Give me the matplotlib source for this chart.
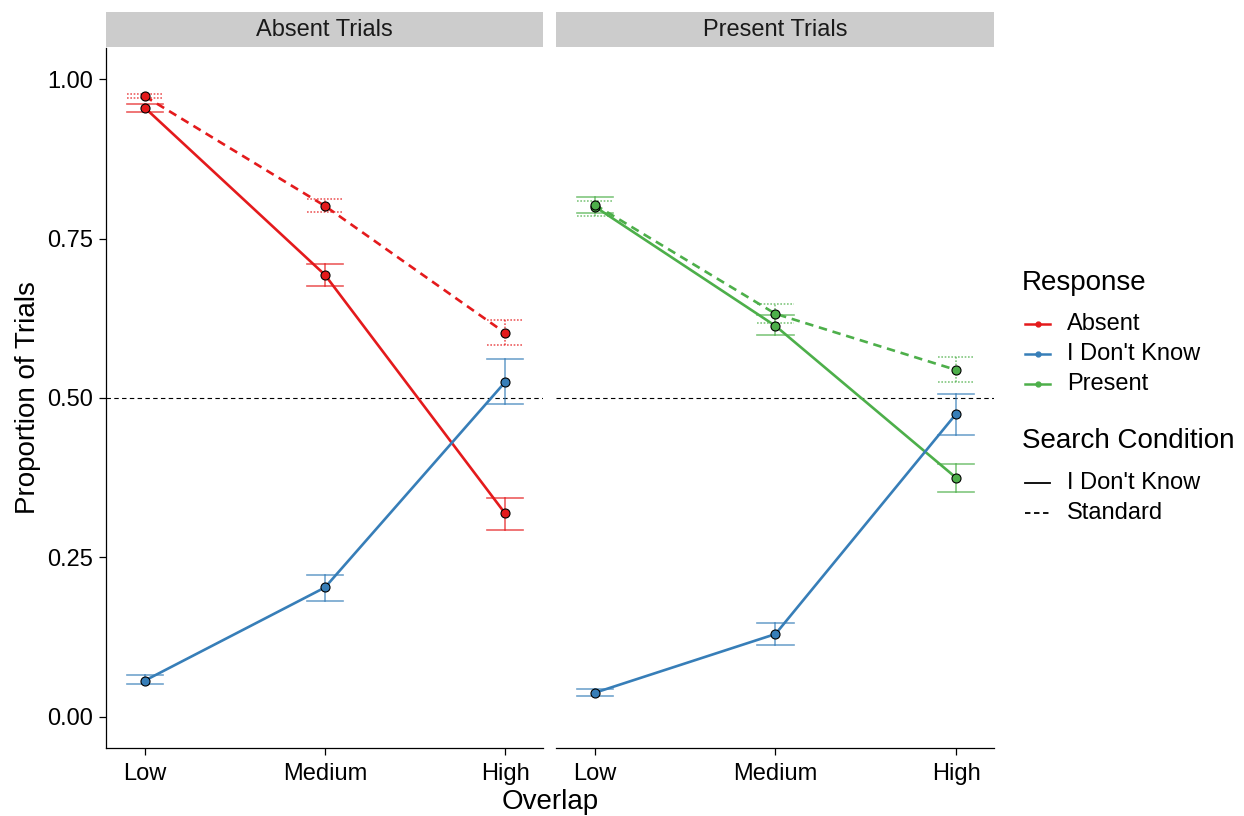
import matplotlib
matplotlib.use("Agg")
import matplotlib.pyplot as plt
from matplotlib.lines import Line2D
from matplotlib.patches import Rectangle

plt.rcParams['font.family'] = ['Liberation Sans', 'DejaVu Sans']

overlap = ["Low", "Medium", "High"]
panels = ["Absent Trials", "Present Trials"]

# Absent trials
abs_absent_idk = [0.955, 0.693, 0.319]
abs_absent_idk_lo = [0.949, 0.675, 0.293]
abs_absent_idk_hi = [0.961, 0.710, 0.344]
abs_absent_std = [0.973, 0.801, 0.602]
abs_absent_std_lo = [0.970, 0.792, 0.583]
abs_absent_std_hi = [0.977, 0.812, 0.622]
abs_idk_idk = [0.057, 0.203, 0.525]
abs_idk_idk_lo = [0.051, 0.182, 0.490]
abs_idk_idk_hi = [0.066, 0.223, 0.561]

# Present trials
pre_present_idk = [0.800, 0.613, 0.375]
pre_present_idk_lo = [0.790, 0.598, 0.353]
pre_present_idk_hi = [0.815, 0.630, 0.397]
pre_present_std = [0.803, 0.632, 0.544]
pre_present_std_lo = [0.786, 0.618, 0.525]
pre_present_std_hi = [0.809, 0.647, 0.565]
pre_idk_idk = [0.038, 0.130, 0.475]
pre_idk_idk_lo = [0.033, 0.113, 0.442]
pre_idk_idk_hi = [0.044, 0.147, 0.507]

response_labels = ["Absent", "I Don't Know", "Present"]
condition_labels = ["I Don't Know", "Standard"]

RED, BLUE, GREEN = "#E41A1C", "#377EB8", "#4DAF4A"
DASHED = (0, (3.2, 2.2))

series = {
    0: [
        (abs_absent_idk, abs_absent_idk_lo, abs_absent_idk_hi, RED, "solid"),
        (abs_absent_std, abs_absent_std_lo, abs_absent_std_hi, RED, "dashed"),
        (abs_idk_idk, abs_idk_idk_lo, abs_idk_idk_hi, BLUE, "solid"),
    ],
    1: [
        (pre_present_idk, pre_present_idk_lo, pre_present_idk_hi, GREEN, "solid"),
        (pre_present_std, pre_present_std_lo, pre_present_std_hi, GREEN, "dashed"),
        (pre_idk_idk, pre_idk_idk_lo, pre_idk_idk_hi, BLUE, "solid"),
    ],
}

W, H = 1244, 816
fig = plt.figure(figsize=(W / 100, H / 100), dpi=100)

TICK_FS = 17
TITLE_FS = 20

def fx(px):
    return px / W

def fy(py):
    return 1 - py / H

panel_x = [(106, 543), (556, 994)]
top, bottom = 48, 748
strip_top = 12
for i, (x0, x1) in enumerate(panel_x):
    ax = fig.add_axes([fx(x0), fy(bottom), (x1 - x0) / W, (bottom - top) / H])
    xs = list(range(1, len(overlap) + 1))
    for vals, lo, hi, col, ls in series[i]:
        dash = DASHED if ls == "dashed" else "-"
        ebls = (0, (1, 1)) if ls == "dashed" else "-"
        for x, l, h in zip(xs, lo, hi):
            ax.plot([x, x], [l, h], color=col, alpha=0.7, lw=1.2, ls=ebls, zorder=2)
            ax.plot([x - 0.1, x + 0.1], [l, l], color=col, alpha=0.7, lw=1.2, ls=ebls, zorder=2)
            ax.plot([x - 0.1, x + 0.1], [h, h], color=col, alpha=0.7, lw=1.2, ls=ebls, zorder=2)
        ax.plot(xs, vals, color=col, lw=1.9, ls=dash, zorder=3)
        ax.plot(xs, vals, ls="none", marker="o", ms=6.5, mfc=col, mec="black", mew=0.8, zorder=4)
    ax.axhline(0.5, color="black", lw=0.8, ls=(0, (4, 3)), zorder=1)
    ax.set_xlim(0.785, 3.21)
    ax.set_ylim(-0.0486, 1.0486)
    ax.set_xticks(xs)
    ax.set_xticklabels(overlap, fontsize=TICK_FS)
    ax.set_yticks([0, 0.25, 0.5, 0.75, 1.0])
    ax.set_yticklabels(["0.00", "0.25", "0.50", "0.75", "1.00"], fontsize=TICK_FS)
    for s in ["top", "right"]:
        ax.spines[s].set_visible(False)
    ax.spines["bottom"].set_linewidth(0.9)
    ax.spines["left"].set_linewidth(0.9)
    ax.tick_params(length=5, width=0.9, pad=4, colors="black", labelcolor="black")
    ax.tick_params(axis="x", pad=5.5)
    if i == 1:
        ax.spines["left"].set_visible(False)
        ax.tick_params(axis="y", left=False, labelleft=False)
    # strip
    fig.add_artist(Rectangle((fx(x0), fy(top - 1)), (x1 - x0) / W, (top - 1 - strip_top) / H,
                             transform=fig.transFigure, facecolor="#CCCCCC", edgecolor="none"))
    fig.text(fx((x0 + x1) / 2), fy((strip_top + top - 1) / 2), panels[i],
             ha="center", va="center", fontsize=TICK_FS, color="#1A1A1A")

fig.text(fx(550), fy(802), "Overlap", ha="center", va="center", fontsize=TITLE_FS)
fig.text(fx(28), fy(398), "Proportion of Trials", ha="center", va="center",
         rotation=90, fontsize=TITLE_FS)

# Legends (drawn in figure coordinates)
KX0, KX1, TX = 1025, 1050, 1067
fig.text(fx(1022), fy(283), "Response", ha="left", va="center", fontsize=TITLE_FS)
for lab, col, yy in zip(response_labels, (RED, BLUE, GREEN), (324, 354, 384)):
    fig.add_artist(Line2D([fx(KX0), fx(KX1)], [fy(yy), fy(yy)], transform=fig.transFigure,
                          color=col, lw=1.8))
    fig.add_artist(Line2D([fx((KX0 + KX1) / 2)], [fy(yy)], transform=fig.transFigure,
                          color=col, marker="o", ms=3.5, ls="none"))
    fig.text(fx(TX), fy(yy), lab, ha="left", va="center", fontsize=TICK_FS)

fig.text(fx(1022), fy(441), "Search Condition", ha="left", va="center", fontsize=TITLE_FS)
for lab, ls, yy in zip(condition_labels, ("-", (0, (3, 2))), (483, 513)):
    fig.add_artist(Line2D([fx(KX0), fx(KX1)], [fy(yy), fy(yy)], transform=fig.transFigure,
                          color="black", lw=1.3, ls=ls))
    fig.text(fx(TX), fy(yy), lab, ha="left", va="center", fontsize=TICK_FS)

fig.savefig("out.png", dpi=100)
